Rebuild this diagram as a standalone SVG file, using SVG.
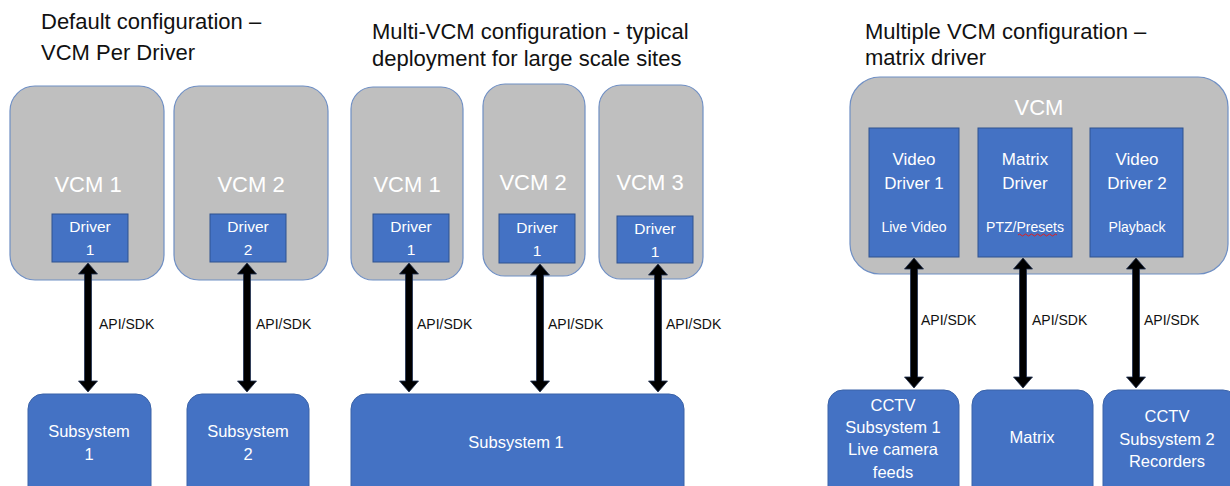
<svg xmlns="http://www.w3.org/2000/svg" width="1230" height="486" viewBox="0 0 1230 486">
<style>
.title{font-family:"Liberation Sans",Arial,sans-serif;font-size:22px;fill:#111111}
.vcm{fill:#bfbfbf;stroke:#6f8fc4;stroke-width:1.2}
.drv{fill:#4472c4;stroke:#2f528f;stroke-width:1}
.sub{fill:#4472c4;stroke:#3a62a8;stroke-width:1}
.vt{font-family:"Liberation Sans",Arial,sans-serif;font-size:22px;fill:#ffffff;text-anchor:middle}
.dt{font-family:"Liberation Sans",Arial,sans-serif;font-size:15.5px;fill:#ffffff;text-anchor:middle}
.rt{font-family:"Liberation Sans",Arial,sans-serif;font-size:17px;fill:#ffffff;text-anchor:middle}
.rs{font-family:"Liberation Sans",Arial,sans-serif;font-size:14px;fill:#ffffff;text-anchor:middle}
.st{font-family:"Liberation Sans",Arial,sans-serif;font-size:16.5px;fill:#ffffff;text-anchor:middle}
.api{font-family:"Liberation Sans",Arial,sans-serif;font-size:14px;fill:#111111}
.arr{fill:#000000;stroke:#1f3050;stroke-width:0.8}
</style>

<g id="titles">
<text class="title" x="41" y="29">Default configuration –</text>
<text class="title" x="41" y="60">VCM Per Driver</text>
<text class="title" x="372" y="39">Multi-VCM configuration - typical</text>
<text class="title" x="372" y="66">deployment for large scale sites</text>
<text class="title" x="865" y="39">Multiple VCM configuration –</text>
<text class="title" x="865" y="65">matrix driver</text>
</g>

<!-- Left section -->
<g id="vcm-left-1">
<rect class="vcm" x="10" y="86" width="154" height="194" rx="25"/>
<text class="vt" x="88" y="192">VCM 1</text>
</g>
<g id="driver-left-1">
<rect class="drv" x="52" y="214" width="76" height="48"/>
<text class="dt" x="90" y="232">Driver</text>
<text class="dt" x="90" y="255">1</text>
</g>
<g id="vcm-left-2">
<rect class="vcm" x="174" y="86" width="154" height="194" rx="25"/>
<text class="vt" x="251" y="192">VCM 2</text>
</g>
<g id="driver-left-2">
<rect class="drv" x="210" y="214" width="76" height="48"/>
<text class="dt" x="248" y="232">Driver</text>
<text class="dt" x="248" y="255">2</text>
</g>
<g id="subsystem-left-1">
<rect class="sub" x="28" y="394" width="123" height="110" rx="15"/>
<text class="st" x="89" y="437">Subsystem</text>
<text class="st" x="89" y="460">1</text>
</g>
<g id="subsystem-left-2">
<rect class="sub" x="187" y="394" width="122" height="110" rx="15"/>
<text class="st" x="248" y="437">Subsystem</text>
<text class="st" x="248" y="460">2</text>
</g>

<!-- Middle section -->
<g id="vcm-mid-1">
<rect class="vcm" x="351" y="87" width="112" height="193" rx="22"/>
<text class="vt" x="407" y="192">VCM 1</text>
</g>
<g id="driver-mid-1">
<rect class="drv" x="373" y="214" width="76" height="48"/>
<text class="dt" x="411" y="232">Driver</text>
<text class="dt" x="411" y="255">1</text>
</g>
<g id="vcm-mid-2">
<rect class="vcm" x="483" y="84" width="102" height="192" rx="22"/>
<text class="vt" x="533" y="190">VCM 2</text>
</g>
<g id="driver-mid-2">
<rect class="drv" x="499" y="214" width="76" height="49"/>
<text class="dt" x="537" y="233">Driver</text>
<text class="dt" x="537" y="256">1</text>
</g>
<g id="vcm-mid-3">
<rect class="vcm" x="599" y="85" width="104" height="194" rx="22"/>
<text class="vt" x="650" y="190">VCM 3</text>
</g>
<g id="driver-mid-3">
<rect class="drv" x="617" y="216" width="76" height="47"/>
<text class="dt" x="655" y="234">Driver</text>
<text class="dt" x="655" y="257">1</text>
</g>
<g id="subsystem-mid">
<rect class="sub" x="351" y="394" width="333" height="110" rx="15"/>
<text class="st" x="516" y="448">Subsystem 1</text>
</g>

<!-- Right section -->
<g id="vcm-right">
<rect class="vcm" x="850" y="77" width="378" height="197" rx="30"/>
<text class="vt" x="1039" y="115">VCM</text>
</g>
<g id="video-driver-1">
<rect class="drv" x="869" y="128" width="90" height="129"/>
<text class="rt" x="914" y="165">Video</text>
<text class="rt" x="914" y="189">Driver 1</text>
<text class="rs" x="914" y="232">Live Video</text>
</g>
<g id="matrix-driver">
<rect class="drv" x="978" y="128" width="94" height="129"/>
<text class="rt" x="1025" y="165">Matrix</text>
<text class="rt" x="1025" y="189">Driver</text>
<text class="rs" x="1025" y="232">PTZ/Presets</text>
<path d="M1018 235 q1.5 -2 3 0 t3 0 t3 0 t3 0 t3 0 t3 0 t3 0 t3 0 t3 0 t3 0 t3 0 t3 0 t3 0" fill="none" stroke="#e02020" stroke-width="1"/>
</g>
<g id="video-driver-2">
<rect class="drv" x="1090" y="128" width="93" height="129"/>
<text class="rt" x="1137" y="165">Video</text>
<text class="rt" x="1137" y="189">Driver 2</text>
<text class="rs" x="1137" y="232">Playback</text>
</g>
<g id="cctv-subsystem-1">
<rect class="sub" x="828" y="390" width="131" height="114" rx="15"/>
<text class="st" x="893" y="411">CCTV</text>
<text class="st" x="893" y="433">Subsystem 1</text>
<text class="st" x="893" y="455">Live camera</text>
<text class="st" x="893" y="478">feeds</text>
</g>
<g id="matrix">
<rect class="sub" x="972" y="390" width="121" height="114" rx="15"/>
<text class="st" x="1032" y="443">Matrix</text>
</g>
<g id="cctv-subsystem-2">
<rect class="sub" x="1103" y="390" width="135" height="114" rx="15"/>
<text class="st" x="1167" y="422">CCTV</text>
<text class="st" x="1167" y="445">Subsystem 2</text>
<text class="st" x="1167" y="467">Recorders</text>
</g>

<!-- Connectors -->
<g id="connectors">
<polygon class="arr" points="88,263 97.5,274 91.5,274 91.5,381 97.5,381 88,392 78.5,381 84.5,381 84.5,274 78.5,274"/>
<polygon class="arr" points="247,263 256.5,274 250.5,274 250.5,381 256.5,381 247,392 237.5,381 243.5,381 243.5,274 237.5,274"/>
<polygon class="arr" points="409,263 418.5,274 412.5,274 412.5,381 418.5,381 409,392 399.5,381 405.5,381 405.5,274 399.5,274"/>
<polygon class="arr" points="540,264 549.5,275 543.5,275 543.5,381 549.5,381 540,392 530.5,381 536.5,381 536.5,275 530.5,275"/>
<polygon class="arr" points="658,264 667.5,275 661.5,275 661.5,381 667.5,381 658,392 648.5,381 654.5,381 654.5,275 648.5,275"/>
<polygon class="arr" points="914,258 923.5,269 917.5,269 917.5,377 923.5,377 914,388 904.5,377 910.5,377 910.5,269 904.5,269"/>
<polygon class="arr" points="1023,258 1032.5,269 1026.5,269 1026.5,377 1032.5,377 1023,388 1013.5,377 1019.5,377 1019.5,269 1013.5,269"/>
<polygon class="arr" points="1136,258 1145.5,269 1139.5,269 1139.5,377 1145.5,377 1136,388 1126.5,377 1132.5,377 1132.5,269 1126.5,269"/>
<text class="api" x="99" y="329">API/SDK</text>
<text class="api" x="256" y="329">API/SDK</text>
<text class="api" x="417" y="329">API/SDK</text>
<text class="api" x="548" y="329">API/SDK</text>
<text class="api" x="666" y="329">API/SDK</text>
<text class="api" x="921" y="325">API/SDK</text>
<text class="api" x="1032" y="325">API/SDK</text>
<text class="api" x="1144" y="325">API/SDK</text>
</g>
</svg>
